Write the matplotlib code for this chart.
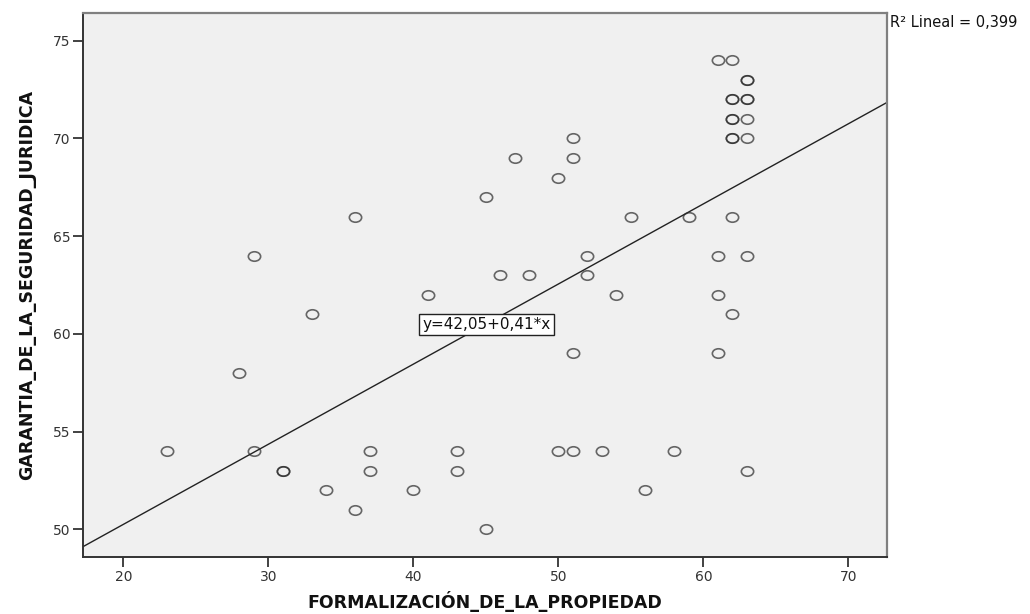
import numpy as np
import matplotlib
matplotlib.use("Agg")
import matplotlib.pyplot as plt
from matplotlib.markers import MarkerStyle
from matplotlib.transforms import Affine2D

plt.rcParams['font.family'] = ['DejaVu Sans']

# Puntajes por encuestado (los repetidos aparecen dos veces)
formalizacion = [23, 28, 29, 29, 31, 31, 33, 34, 36, 36, 37, 37, 40, 41, 43, 43,
                 45, 45, 46, 47, 48, 50, 50, 51, 51, 51, 51, 52, 52, 53, 54, 55,
                 56, 58, 59, 61, 61, 61, 61, 62, 62, 62, 62, 62, 62, 62, 62, 62,
                 63, 63, 63, 63, 63, 63, 63, 63]
garantia = [54, 58, 64, 54, 53, 53, 61, 52, 66, 51, 54, 53, 52, 62, 54, 53,
            67, 50, 63, 69, 63, 68, 54, 70, 69, 59, 54, 64, 63, 54, 62, 66,
            52, 54, 66, 74, 64, 62, 59, 74, 72, 72, 71, 71, 70, 70, 66, 61,
            73, 73, 72, 72, 71, 70, 64, 53]

# Recta de ajuste lineal
intercepto = 42.05
pendiente = 0.41
r2 = 0.399

xlim = (17.22, 72.67)
ylim = (48.58, 76.42)

fig = plt.figure(figsize=(10.30, 6.14), dpi=100)
ax = fig.add_axes([0.0806, 0.0928, 0.7806, 0.886])
ax.set_facecolor('#f0f0f0')

# circulo algo achatado, como en la salida de SPSS
circulo = MarkerStyle('o', fillstyle='none', transform=Affine2D().scale(1.3, 1.0))
ax.plot(formalizacion, garantia, linestyle='none', marker=circulo, markersize=6.8,
        markeredgecolor='#2a2a2a', markeredgewidth=1.2, alpha=0.7, zorder=3)

xs = np.array(xlim)
ax.plot(xs, intercepto + pendiente * xs, color='#222222', linewidth=1.0, zorder=2)

ecuacion = f'y={intercepto:.2f}+{pendiente:.2f}*x'.replace('.', ',')
ax.text(45.08, 60.48, ecuacion, ha='center', va='center', fontsize=11,
        color='#111111', zorder=4,
        bbox=dict(boxstyle='square,pad=0.22', facecolor='white',
                  edgecolor='#222222', linewidth=1.0))

ax.set_xlim(*xlim)
ax.set_ylim(*ylim)
ax.set_xticks([20, 30, 40, 50, 60, 70])
ax.set_yticks([50, 55, 60, 65, 70, 75])
ax.tick_params(axis='both', direction='out', length=7, width=1.3,
               color='#333333', labelsize=10, labelcolor='#333333', pad=2)

for side in ['left', 'bottom']:
    ax.spines[side].set_color('#333333')
    ax.spines[side].set_linewidth(1.4)
for side in ['top', 'right']:
    ax.spines[side].set_color('#808080')
    ax.spines[side].set_linewidth(1.6)

ax.set_xlabel('FORMALIZACIÓN_DE_LA_PROPIEDAD', fontsize=12.5, fontweight='bold',
              color='#111111')
ax.set_ylabel('GARANTIA_DE_LA_SEGURIDAD_JURIDICA', fontsize=12.5,
              fontweight='bold', color='#111111')
ax.xaxis.set_label_coords(0.5, -0.062)
ax.yaxis.set_label_coords(-0.058, 0.5)

fig.text(0.864, 0.964, f'R² Lineal = {r2:.3f}'.replace('.', ','), ha='left',
         va='center', fontsize=10.5, color='#111111')

fig.savefig('out.png', dpi=100, facecolor='white')
